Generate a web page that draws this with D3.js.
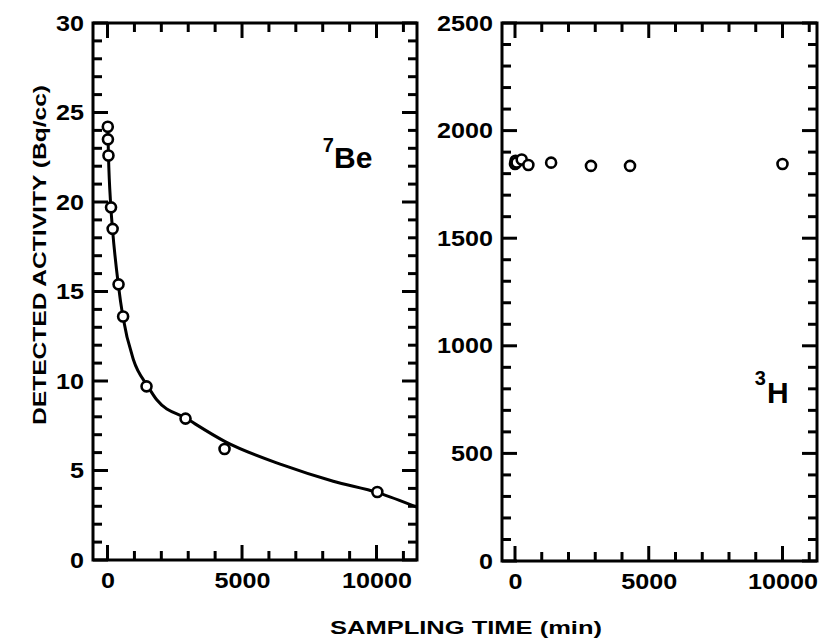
<!DOCTYPE html>
<html lang="en">
<head>
<meta charset="UTF-8">
<title>Detected activity</title>
<script src="https://d3js.org/d3.v7.min.js"></script>
<style>
  body { margin: 0; background: #fff; }
  svg text { font-family: "Liberation Sans", Arial, sans-serif; font-weight: bold; fill: #000; }
</style>
</head>
<body>
<script>
// 7Be: sampling time (min) and detected activity (Bq/cc)
const beTime = [10, 15, 35, 130, 190, 410, 580, 1450, 2900, 4350, 10030];
const beActivity = [24.2, 23.5, 22.6, 19.7, 18.5, 15.4, 13.6, 9.7, 7.9, 6.2, 3.8];

// fitted curve through the 7Be points
const fitTime = [10, 35, 120, 190, 400, 570, 960, 1500, 1830, 2940, 4390, 6530, 8390, 10070, 11500];
const fitActivity = [24.2, 22.6, 19.8, 18.4, 15.4, 13.6, 11.2, 9.7, 8.95, 7.9, 6.6, 5.3, 4.4, 3.75, 2.95];

// 3H: sampling time (min) and detected activity (Bq/cc)
const hTime = [0, 20, 60, 250, 500, 1350, 2840, 4300, 10000];
const hActivity = [1845, 1860, 1852, 1866, 1840, 1851, 1836, 1836, 1845];

// tick values
const timeMinor = [0, 1000, 2000, 3000, 4000, 5000, 6000, 7000, 8000, 9000, 10000, 11000];
const timeMajor = [0, 5000, 10000];
const beMinor = d3.range(0, 31, 1);
const beMajor = [0, 5, 10, 15, 20, 25, 30];
const hMinor = d3.range(0, 2501, 100);
const hMajor = [0, 500, 1000, 1500, 2000, 2500];

const svg = d3.select("body")
    .append("svg")
    .attr("width", 826)
    .attr("height", 641);

function stretch(sel, size, perChar) {
  sel.selectAll("text")
      .attr("font-size", size)
      .each(function () {
        const n = this.textContent.length;
        if (n) d3.select(this).attr("textLength", n * perChar).attr("lengthAdjust", "spacingAndGlyphs");
      });
}

// box with inward ticks on all four sides
function frame(g, x, y, w, h, yMinor, yMajor) {
  const minorLen = 9, majorLen = 15;
  const segs = [];
  timeMinor.forEach(v => {
    const len = timeMajor.indexOf(v) >= 0 ? majorLen : minorLen;
    segs.push([x(v), h, x(v), h - len], [x(v), 0, x(v), len]);
  });
  yMinor.forEach(v => {
    const len = yMajor.indexOf(v) >= 0 ? majorLen : minorLen;
    segs.push([0, y(v), len, y(v)], [w, y(v), w - len, y(v)]);
  });
  g.selectAll("line.tick-mark")
      .data(segs)
      .enter().append("line")
      .attr("class", "tick-mark")
      .attr("x1", d => d[0]).attr("y1", d => d[1])
      .attr("x2", d => d[2]).attr("y2", d => d[3])
      .style("stroke", "#000")
      .style("stroke-width", "3px");

  g.append("rect")
      .attr("width", w).attr("height", h)
      .attr("fill", "none")
      .attr("stroke", "#000")
      .attr("stroke-width", 3);

  const xa = g.append("g").attr("transform", `translate(0,${h})`)
      .call(d3.axisBottom(x).tickValues(timeMajor).tickSize(0).tickPadding(12).tickFormat(d3.format("d")));
  const ya = g.append("g")
      .call(d3.axisLeft(y).tickValues(yMajor).tickSize(0).tickPadding(9).tickFormat(d3.format("d")));
  [xa, ya].forEach(a => {
    a.select(".domain").remove();
    a.attr("font-family", null);
    stretch(a, 22, 14);
  });
}

// left panel: 7Be
const left = { x: 93, y: 23, w: 324, h: 537 };
const gl = svg.append("g").attr("transform", `translate(${left.x},${left.y})`);
const xl = d3.scaleLinear().domain([-540, 11505]).range([0, left.w]);
const yl = d3.scaleLinear().domain([0, 30]).range([left.h, 0]);
frame(gl, xl, yl, left.w, left.h, beMinor, beMajor);

const fit = fitTime.map((t, i) => [t, fitActivity[i]]);
gl.append("path")
    .datum(fit)
    .attr("fill", "none")
    .attr("stroke", "#000")
    .attr("stroke-width", 3)
    .attr("d", d3.line().x(d => xl(d[0])).y(d => yl(d[1])).curve(d3.curveMonotoneX));

gl.selectAll("circle.be")
    .data(beTime.map((t, i) => [t, beActivity[i]]))
    .join("circle")
    .attr("class", "be")
    .attr("cx", d => xl(d[0]))
    .attr("cy", d => yl(d[1]))
    .attr("r", 5)
    .attr("fill", "#fff")
    .attr("stroke", "#000")
    .attr("stroke-width", 2.6);

gl.append("text").attr("x", xl(8000)).attr("y", yl(22.8)).attr("font-size", 20).text("7");
gl.append("text").attr("x", xl(8420)).attr("y", yl(21.9)).attr("font-size", 30).text("Be");

// right panel: 3H
const right = { x: 502, y: 23, w: 315, h: 538 };
const gr = svg.append("g").attr("transform", `translate(${right.x},${right.y})`);
const xr = d3.scaleLinear().domain([-486, 11290]).range([0, right.w]);
const yr = d3.scaleLinear().domain([0, 2500]).range([right.h, 0]);
frame(gr, xr, yr, right.w, right.h, hMinor, hMajor);

gr.selectAll("circle.h")
    .data(hTime.map((t, i) => [t, hActivity[i]]))
    .join("circle")
    .attr("class", "h")
    .attr("cx", d => xr(d[0]))
    .attr("cy", d => yr(d[1]))
    .attr("r", 5)
    .attr("fill", "#fff")
    .attr("stroke", "#000")
    .attr("stroke-width", 2.6);

gr.append("text").attr("x", xr(8960)).attr("y", yr(820)).attr("font-size", 20).text("3");
gr.append("text").attr("x", xr(9420)).attr("y", yr(734)).attr("font-size", 30).text("H");

// axis titles
svg.append("text")
    .attr("x", 466).attr("y", 634)
    .attr("text-anchor", "middle")
    .attr("font-size", 18)
    .attr("textLength", 272).attr("lengthAdjust", "spacingAndGlyphs")
    .text("SAMPLING TIME (min)");

svg.append("text")
    .attr("transform", "translate(46,255) rotate(-90)")
    .attr("text-anchor", "middle")
    .attr("font-size", 18)
    .attr("textLength", 340).attr("lengthAdjust", "spacingAndGlyphs")
    .text("DETECTED ACTIVITY (Bq/cc)");
</script>
</body>
</html>
